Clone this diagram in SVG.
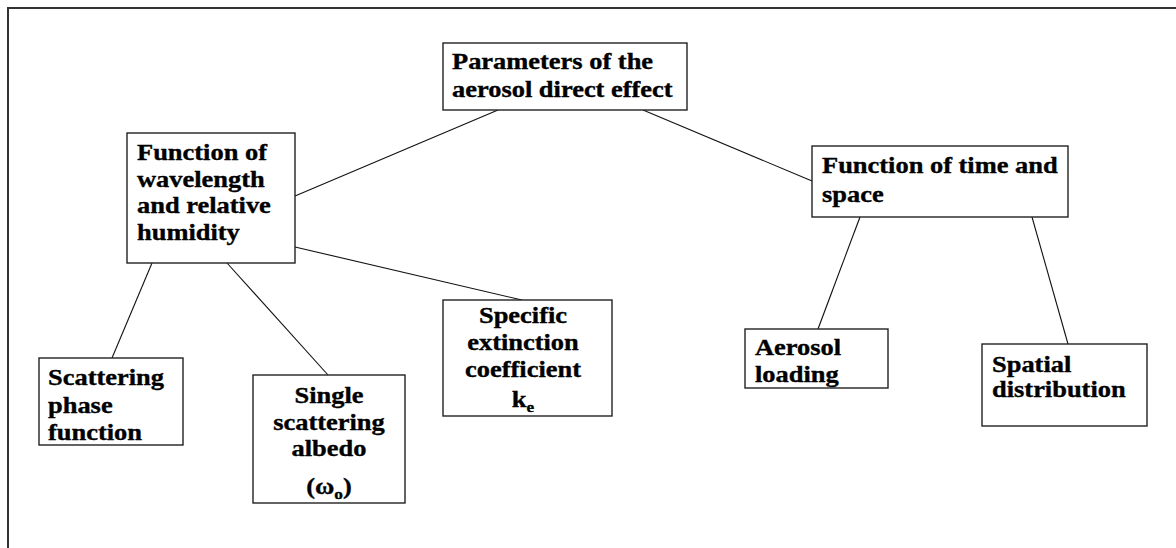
<svg xmlns="http://www.w3.org/2000/svg" width="1176" height="548" viewBox="0 0 1176 548">
<style>
.frame{stroke:#333;stroke-width:2;fill:none}
.box{fill:#fff;stroke:#222;stroke-width:1.4}
.ln{stroke:#111;stroke-width:1.1;fill:none}
text{font-family:"Liberation Serif","Times New Roman",serif;font-weight:bold;font-size:23px;fill:#000;stroke:#000;stroke-width:0.35}
.c{text-anchor:middle}
.sub{font-size:15px}
</style>
<rect width="1176" height="548" fill="#fff"/>
<path class="frame" d="M8,548 V8 H1176"/>
<g id="connectors">
<line class="ln" x1="498" y1="110" x2="295" y2="196"/>
<line class="ln" x1="643" y1="110" x2="812" y2="181"/>
<line class="ln" x1="152" y1="263" x2="112" y2="358"/>
<line class="ln" x1="227" y1="263" x2="328" y2="375"/>
<line class="ln" x1="295" y1="247" x2="522" y2="300"/>
<line class="ln" x1="860" y1="217" x2="818" y2="329"/>
<line class="ln" x1="1032" y1="217" x2="1068" y2="344"/>
</g>
<g id="root">
<rect class="box" x="443" y="43" width="244" height="67"/>
<text transform="matrix(1.15 0 0 1 452 69)">Parameters of the</text>
<text transform="matrix(1.15 0 0 1 452 97)">aerosol direct effect</text>
</g>
<g id="wavelength">
<rect class="box" x="127" y="133" width="168" height="130"/>
<text transform="matrix(1.15 0 0 1 137 160)">Function of</text>
<text transform="matrix(1.15 0 0 1 137 187)">wavelength</text>
<text transform="matrix(1.15 0 0 1 137 213)">and relative</text>
<text transform="matrix(1.15 0 0 1 137 240)">humidity</text>
</g>
<g id="timespace">
<rect class="box" x="812" y="146" width="256" height="71"/>
<text transform="matrix(1.15 0 0 1 822 173)">Function of time and</text>
<text transform="matrix(1.15 0 0 1 822 202)">space</text>
</g>
<g id="phase">
<rect class="box" x="39" y="358" width="144" height="87"/>
<text transform="matrix(1.15 0 0 1 48 385)">Scattering</text>
<text transform="matrix(1.15 0 0 1 48 413)">phase</text>
<text transform="matrix(1.15 0 0 1 48 440)">function</text>
</g>
<g id="albedo">
<rect class="box" x="253" y="375" width="152" height="128"/>
<text class="c" transform="matrix(1.15 0 0 1 329 403)">Single</text>
<text class="c" transform="matrix(1.15 0 0 1 329 430)">scattering</text>
<text class="c" transform="matrix(1.15 0 0 1 329 456)">albedo</text>
<text class="c" transform="matrix(1.15 0 0 1 329 494)">(ω<tspan class="sub" dy="5">o</tspan><tspan dy="-5">)</tspan></text>
</g>
<g id="extinction">
<rect class="box" x="443" y="300" width="169" height="116"/>
<text class="c" transform="matrix(1.15 0 0 1 523 323)">Specific</text>
<text class="c" transform="matrix(1.15 0 0 1 523 350)">extinction</text>
<text class="c" transform="matrix(1.15 0 0 1 523 377)">coefficient</text>
<text class="c" transform="matrix(1.15 0 0 1 523 407)">k<tspan class="sub" dy="5">e</tspan></text>
</g>
<g id="loading">
<rect class="box" x="745" y="329" width="143" height="59"/>
<text transform="matrix(1.15 0 0 1 755 355)">Aerosol</text>
<text transform="matrix(1.15 0 0 1 755 382)">loading</text>
</g>
<g id="spatial">
<rect class="box" x="982" y="344" width="165" height="82"/>
<text transform="matrix(1.15 0 0 1 992 372)">Spatial</text>
<text transform="matrix(1.15 0 0 1 992 397)">distribution</text>
</g>
</svg>
